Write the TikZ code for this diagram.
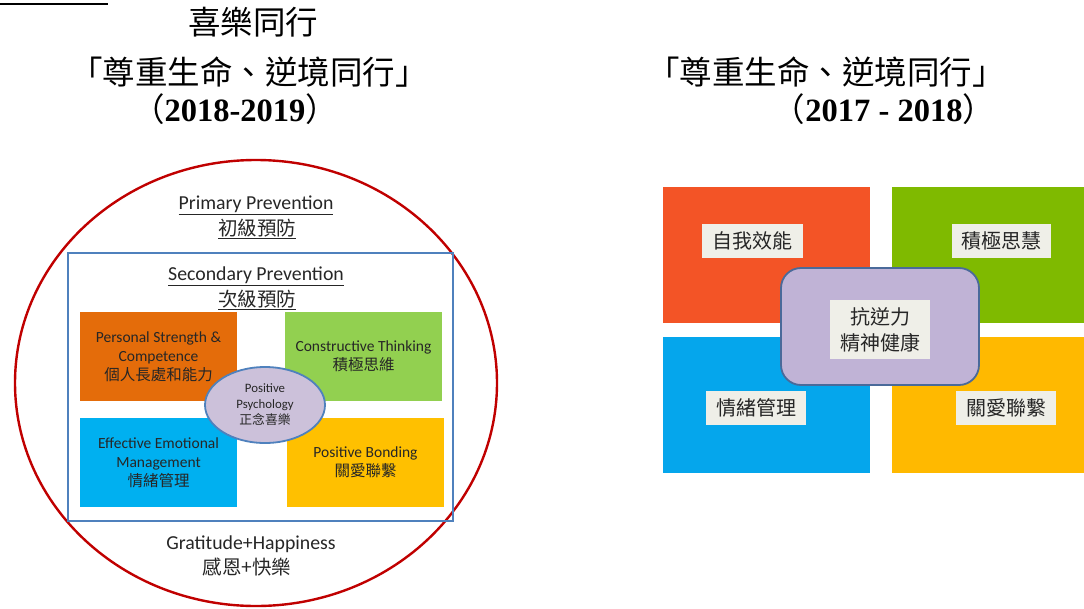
\documentclass[tikz,border=0pt]{standalone}
\usepackage{fontspec}
\setmainfont{Liberation Serif}
\newfontfamily\cjk{Noto Sans CJK TC}
\newfontfamily\calfont{Carlito}
\usetikzlibrary{shapes.geometric}
\definecolor{cred}{HTML}{C00000}
\definecolor{cblue}{HTML}{4F81BD}
\definecolor{corange}{HTML}{E46C0A}
\definecolor{cgreen}{HTML}{92D050}
\definecolor{csky}{HTML}{00B0F0}
\definecolor{cyellow}{HTML}{FFC000}
\definecolor{clav}{HTML}{CCC1DA}
\definecolor{rred}{HTML}{F35426}
\definecolor{rgreen}{HTML}{7FBA00}
\definecolor{rblue}{HTML}{05A6EC}
\definecolor{ryellow}{HTML}{FFB900}
\definecolor{rlav}{HTML}{C0B3D6}
\definecolor{rborder}{HTML}{4A6A9A}
\definecolor{rlbl}{HTML}{EFEFE8}
\definecolor{txt}{HTML}{262626}
\begin{document}
\begin{tikzpicture}[x=1pt,y=-1pt,
  title/.style={inner sep=0pt, anchor=center, text=black},
  ltext/.style={inner sep=0pt, align=center, text=txt, font=\calfont\fontsize{19.8}{24}\selectfont},
  lctext/.style={inner sep=0pt, align=center, text=txt, font=\cjk\fontsize{19.5}{24}\selectfont},
  quad/.style={draw=none, minimum width=157pt, minimum height=89pt, inner sep=1pt, align=center, text=txt, font=\calfont\fontsize{15.5}{19}\selectfont},
  rquad/.style={draw=none, minimum width=207pt, minimum height=136pt, inner sep=0pt},
  rlabel/.style={fill=rlbl, inner sep=0pt, minimum width=100pt, minimum height=34pt, text=txt, font=\cjk\fontsize{20}{25}\selectfont, align=center}
]
\useasboundingbox (0,0) rectangle (1084,608);

% cut-off heading underline at top-left
\draw[line width=1.8pt, black] (0,4) coordinate (ulA) -- (108,4) coordinate (ulB);

% titles
\node[title, font=\cjk\fontsize{32.5}{36}\selectfont] (t1) at (253,22) {喜樂同行};
\node[title, font=\cjk\fontsize{32.5}{36}\selectfont] (t2) at (249,72) {「尊重生命、逆境同行」};
\node[title, font=\fontsize{32.5}{36}\selectfont] (t3) at (235,109) {{\cjk （}\textbf{2018-2019}{\cjk ）}};
\node[title, font=\cjk\fontsize{32.5}{36}\selectfont] (t4) at (826,72) {「尊重生命、逆境同行」};
\node[title, font=\fontsize{32.5}{36}\selectfont] (t5) at (884,109) {{\cjk （}\textbf{2017 - 2018}{\cjk ）}};

% left diagram
\node[ellipse, draw=cred, line width=2.4pt, minimum width=482pt, minimum height=446pt, inner sep=0pt] (outer) at (256,383) {};
\node[draw=cblue, line width=2pt, minimum width=385pt, minimum height=268pt, inner sep=0pt] (inner) at (260.5,387) {};

\node[ltext] (prim) at (256,205) {\underline{Primary Prevention}};
\node[lctext] (primc) at (257,229) {\underline{初級預防}};
\node[ltext] (sec) at (256,276) {\underline{Secondary Prevention}};
\node[lctext] (secc) at (257,300) {\underline{次級預防}};

\node[quad, fill=corange] (q1) at (158.5,356.5) {Personal Strength \&\\Competence\\{\cjk 個人長處和能力}};
\node[quad, fill=cgreen] (q2) at (363.5,356.5) {Constructive Thinking\\{\cjk 積極思維}};
\node[quad, fill=csky] (q3) at (158.5,462.5) {Effective Emotional\\Management\\{\cjk 情緒管理}};
\node[quad, fill=cyellow] (q4) at (365.5,462.5) {Positive Bonding\\{\cjk 關愛聯繫}};

\node[ellipse, draw=cblue, line width=1.8pt, fill=clav, minimum width=120pt, minimum height=76pt, inner sep=0pt, align=center, text=txt, font=\calfont\fontsize{12.8}{16}\selectfont] (pp) at (265,405) {Positive\\Psychology\\{\cjk 正念喜樂}};

\node[ltext] (grat) at (251,544) {Gratitude+Happiness};
\node[lctext] (gratc) at (247,567) {感恩+快樂};

% right diagram
\node[rquad, fill=rred] (r1) at (766.5,255) {};
\node[rquad, fill=rgreen, minimum width=192pt] (r2) at (988,255) {};
\node[rquad, fill=rblue] (r3) at (766.5,404.5) {};
\node[rquad, fill=ryellow, minimum width=192pt] (r4) at (988,404.5) {};

\node[rlabel, minimum width=101pt] (l1) at (752.5,241) {自我效能};
\node[rlabel, minimum width=99pt] (l2) at (1001.5,241) {積極思慧};
\node[rlabel] (l3) at (756,407.5) {情緒管理};
\node[rlabel] (l4) at (1006,407.5) {關愛聯繫};

\node[draw=rborder, line width=1.8pt, fill=rlav, rounded corners=20pt, minimum width=198pt, minimum height=117pt, inner sep=0pt] (core) at (880,326.5) {};
\node[rlabel, minimum height=59pt, font=\cjk\fontsize{20}{26}\selectfont] (l5) at (880,329.5) {抗逆力\\精神健康};
\end{tikzpicture}
\end{document}
